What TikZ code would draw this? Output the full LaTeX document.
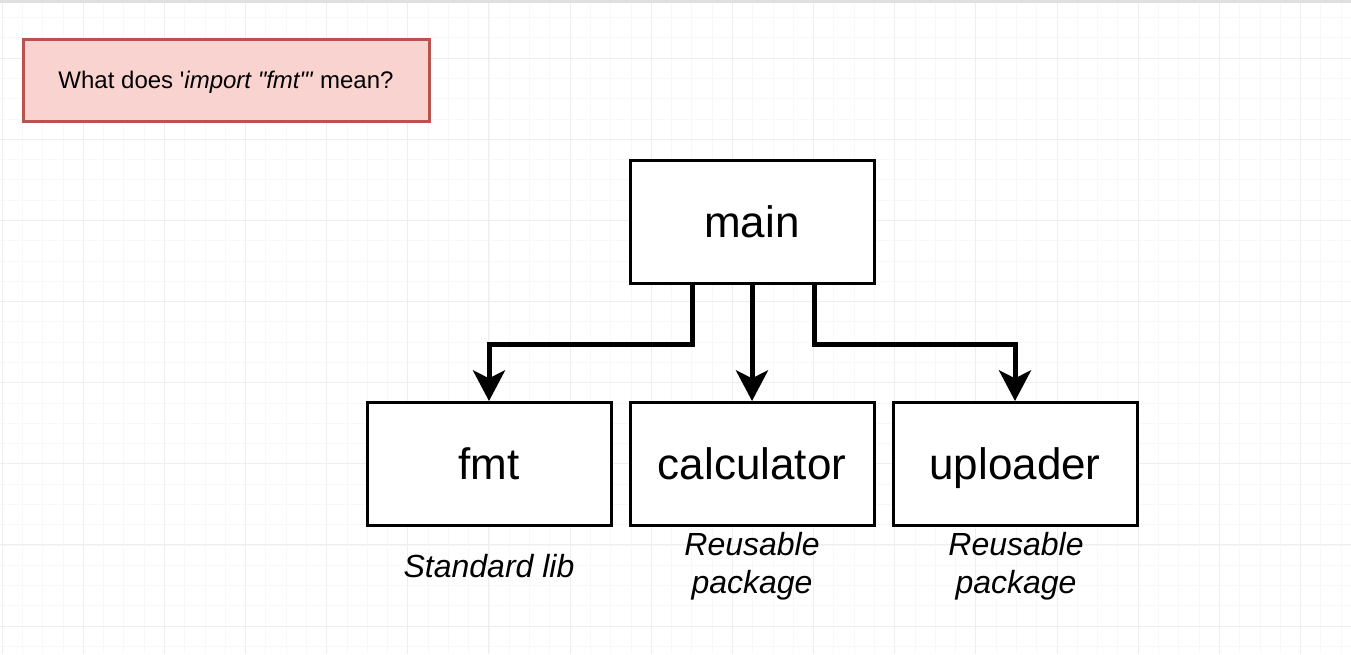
\documentclass[tikz,border=0pt]{standalone}
\usepackage{fontspec}
\setmainfont{Liberation Sans}[Ligatures=TeXOff]
\usetikzlibrary{arrows.meta}
\definecolor{titlefill}{HTML}{F9D3CF}
\definecolor{titledraw}{HTML}{B85450}
\definecolor{gridmaj}{HTML}{EEEEEE}
\definecolor{gridmin}{HTML}{F8F8F8}
\tikzset{
  pkgbox/.style={draw=black, line width=2.25pt, fill=white, minimum width=183pt,
    minimum height=92.25pt, inner sep=0pt, font=\fontsize{33}{40}\selectfont,
    text height=23.8pt, text depth=0pt},
  titlebox/.style={draw=titledraw, fill=titlefill, line width=2.25pt,
    minimum width=304.5pt, minimum height=61.5pt, inner sep=0pt,
    font=\fontsize{18}{22}\selectfont, text height=13pt, text depth=0pt},
  note/.style={font=\fontsize{24}{28.5}\selectfont\itshape, align=center, inner sep=0pt},
  link/.style={line width=3.75pt, -{Stealth[length=23pt, width=24pt, inset=6pt]}},
  gridminor/.style={draw=gridmin, line width=0.5pt},
  gridmajor/.style={draw=gridmaj, line width=0.7pt},
}
\begin{document}
\begin{tikzpicture}[x=0.75pt,y=-0.75pt]
\fill[white] (0,0) rectangle (1351,654);
\useasboundingbox (0,0) rectangle (1351,654);
% grid
\foreach \i in {0,...,66} {
  \draw[gridminor] ({2+20.2875*\i},0) -- ({2+20.2875*\i},654);
}
\foreach \i in {-2,...,29} {
  \draw[gridminor] (0,{58+20.2875*\i}) -- (1351,{58+20.2875*\i});
}
\foreach \i in {0,...,16} {
  \draw[gridmajor] ({2+81.15*\i},0) -- ({2+81.15*\i},654);
}
\foreach \i in {0,...,7} {
  \draw[gridmajor] (0,{58+81.15*\i}) -- (1351,{58+81.15*\i});
}
\draw[black!12, line width=2.5pt] (0,1) -- (1351,1);

% nodes
\node[titlebox] (q) at (226,80) {What does '\textit{import "fmt"'} mean?};
\node[pkgbox] (main) at (752,221.5) {main};
\node[pkgbox] (fmt) at (489,464) {fmt};
\node[pkgbox] (calc) at (752,464) {calculator};
\node[pkgbox] (upl) at (1015,464) {uploader};
\node[note] (fmtnote) at (489,566) {Standard lib};
\node[note] (calcnote) at (752,566) {Reusable\\package};
\node[note] (uplnote) at (1016,566) {Reusable\\package};

% connectors
\draw[link] ([xshift=-45pt]main.south) -- ++(0,60) -| (fmt.north);
\draw[link] (main.south) -- (calc.north);
\draw[link] ([xshift=46.5pt]main.south) -- ++(0,60) -| (upl.north);
\end{tikzpicture}
\end{document}
